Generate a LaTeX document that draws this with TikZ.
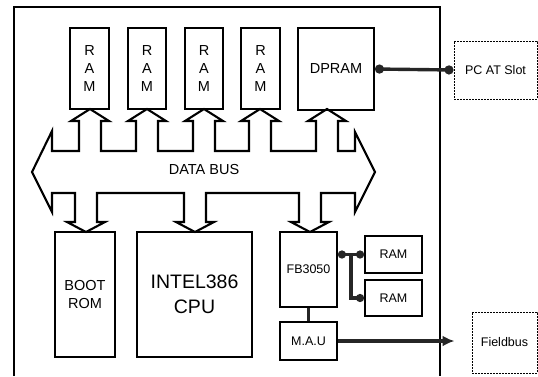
\documentclass[tikz,border=0pt]{standalone}
\usepackage{fontspec}
\setmainfont{Liberation Sans}
\usetikzlibrary{arrows.meta}
\begin{document}
\begin{tikzpicture}[x=1pt,y=-1pt,
  box/.style={draw, line width=1.9pt, inner sep=0pt, align=center},
  ext/.style={draw, line width=1pt, dash pattern=on 2pt off 1pt, inner sep=0pt, align=center},
  conn/.style={line width=3.4pt, draw=black!85},
  bigf/.style={font=\fontsize{14.5}{18}\selectfont},
  midf/.style={font=\fontsize{12.5}{15}\selectfont},
  cpuf/.style={font=\fontsize{19.5}{25}\selectfont}]
\useasboundingbox (0,0) rectangle (538,376);
% board
\draw[line width=1.8pt] (14,376) -- (14,7) -- (440,7) -- (440,376);
% data bus block arrow
\draw[line width=2.1pt, line join=miter]
  (32,172) -- (52,131) -- (52,151)
  \foreach \c in {90,147,204,260,327} {
    -- (\c-11,151) -- (\c-11,121) -- (\c-19,121) -- (\c,109) -- (\c+19,121) -- (\c+11,121) -- (\c+11,151)
  }
  -- (355,151) -- (355,132) -- (375,172) -- (355,212) -- (355,193)
  \foreach \c in {310,195,86} {
    -- (\c+11,193) -- (\c+11,222) -- (\c+19,222) -- (\c,232) -- (\c-19,222) -- (\c-11,222) -- (\c-11,193)
  }
  -- (52,193) -- (52,212) -- cycle;
\node[bigf] (bus) at (204,170) {DATA BUS};
% upper memories
\node[box, bigf, minimum width=39pt, minimum height=81pt] (ram1) at (89.5,68.5) {R\\A\\M};
\node[box, bigf, minimum width=38pt, minimum height=81pt] (ram2) at (147,68.5) {R\\A\\M};
\node[box, bigf, minimum width=38pt, minimum height=81pt] (ram3) at (204,68.5) {R\\A\\M};
\node[box, bigf, minimum width=39pt, minimum height=81pt] (ram4) at (260.5,68.5) {R\\A\\M};
\node[box, bigf, minimum width=76pt, minimum height=82pt] (dpram) at (336,69) {DPRAM};
\node[ext, midf, minimum width=83pt, minimum height=58pt] (pcat) at (495.5,70) {PC AT Slot};
% lower units
\node[box, bigf, minimum width=60pt, minimum height=125pt] (boot) at (85,294.5) {BOOT\\ROM};
\node[box, cpuf, minimum width=115pt, minimum height=125pt] (cpu) at (194.5,294.5) {INTEL386\\CPU};
\node[box, midf, minimum width=57pt, minimum height=75pt] (fb) at (308.5,269.5) {FB3050};
\node[box, midf, minimum width=57pt, minimum height=37pt] (rama) at (393.5,254.5) {RAM};
\node[box, midf, minimum width=57pt, minimum height=36pt] (ramb) at (393.5,298) {RAM};
\node[box, midf, minimum width=57pt, minimum height=38pt] (mau) at (308.5,341) {M.A.U};
\node[ext, midf, minimum width=65pt, minimum height=61pt] (field) at (504.5,342.5) {Fieldbus};
% connectors
\draw[conn, {Circle[length=9pt,width=9pt]}-{Circle[length=9pt,width=9pt]}] (dpram.east) -- (pcat.west);
\draw[conn, {Circle[length=8pt,width=8pt]}-{Circle[length=8pt,width=8pt]}] (fb.east |- rama.west) -- (rama.west);
\path (fb.east |- rama.west) ++(13,0) coordinate (br);
\draw[conn, -{Circle[length=8pt,width=8pt]}] (br) |- (ramb.west);
\draw[conn] (fb.south) -- (mau.north);
\coordinate (fbtip) at ([xshift=-17pt]field.west |- mau.east);
\draw[conn, -{Latex[length=12pt,width=11pt]}] (mau.east) -- (fbtip);
\end{tikzpicture}
\end{document}
